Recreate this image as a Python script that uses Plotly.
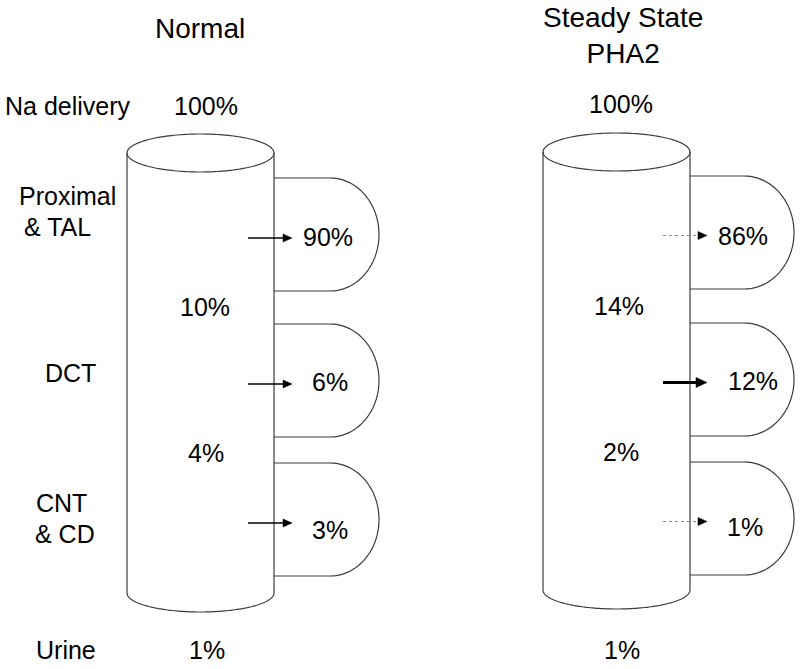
import numpy as np
import plotly.graph_objects as go

# ---------------- data ----------------
panel_titles = ["Normal", "Steady State<br>PHA2"]
segment_labels = ["Na delivery", "Proximal", "& TAL", "DCT", "CNT", "& CD", "Urine"]
normal_delivery = [100, 10, 4, 1]      # % Na delivered: start, after prox/TAL, after DCT, urine
normal_reabsorbed = [90, 6, 3]         # % reabsorbed in Proximal&TAL, DCT, CNT&CD
pha2_delivery = [100, 14, 2, 1]
pha2_reabsorbed = [86, 12, 1]
pha2_arrow_kind = ["dotted", "thick", "dotted"]
normal_arrow_kind = ["normal", "normal", "normal"]

# ---------------- layout constants ----------------
W, H = 800, 669
LINE = "#3c3c3c"
FONT = "Arial, Liberation Sans, sans-serif"

panels = [
    dict(cx=200.5, hw=73.5, top=153, bot=593, ry=19,
         lobe_tops=[178, 324, 463], lobe_h=113, lobe_rx=49, lobe_ext=105,
         title_y=28, deliv_y=[106, 307, 453, 650], deliv_x=[205.5, 204.5, 206, 207],
         pct_x=[327.5, 329.5, 330], pct_y=[237, 382, 529.5],
         arrow_x0=248, arrow_tip=292, arrow_dy=3.5,
         delivery=normal_delivery, reab=normal_reabsorbed, kinds=normal_arrow_kind,
         title=panel_titles[0], title_x=200),
    dict(cx=616.5, hw=73.5, top=152, bot=590, ry=19,
         lobe_tops=[176, 323, 462], lobe_h=113, lobe_rx=50, lobe_ext=104,
         title_y=35.5, deliv_y=[103.5, 306, 452, 650], deliv_x=[620.5, 619, 621, 622],
         pct_x=[743, 752.5, 745], pct_y=[235.5, 380.5, 526.5],
         arrow_x0=663, arrow_tip=707, arrow_dy=3,
         delivery=pha2_delivery, reab=pha2_reabsorbed, kinds=pha2_arrow_kind,
         title=panel_titles[1], title_x=623),
]

label_pos = [(68, 106), (67.5, 195.5), (57, 227), (70, 372.5), (61, 502.5), (64.5, 533.5), (65.5, 650)]

fig = go.Figure()
shapes = []
annotations = []

def ellipse_pts(cx, cy, rx, ry, t0, t1, n=80):
    t = np.linspace(t0, t1, n)
    return cx + rx * np.cos(t), cy + ry * np.sin(t)

def path_from(xs, ys, close=False):
    s = "M " + " L ".join(f"{x:.2f},{y:.2f}" for x, y in zip(xs, ys))
    return s + (" Z" if close else "")

for p in panels:
    cx, hw, ry = p["cx"], p["hw"], p["ry"]
    xl, xr = cx - hw, cx + hw
    # top ellipse
    xs, ys = ellipse_pts(cx, p["top"], hw, ry, 0, 2 * np.pi, 160)
    shapes.append(dict(type="path", path=path_from(xs, ys, True), line=dict(color=LINE, width=1.2)))
    # sides
    shapes.append(dict(type="line", x0=xl, x1=xl, y0=p["top"], y1=p["bot"], line=dict(color=LINE, width=1.2)))
    shapes.append(dict(type="line", x0=xr, x1=xr, y0=p["top"], y1=p["bot"], line=dict(color=LINE, width=1.2)))
    # bottom half ellipse (lower half, y down)
    xs, ys = ellipse_pts(cx, p["bot"], hw, ry, 0, np.pi, 100)
    shapes.append(dict(type="path", path=path_from(xs, ys), line=dict(color=LINE, width=1.2)))
    # lobes
    for lt in p["lobe_tops"]:
        lb = lt + p["lobe_h"]
        ryl = p["lobe_h"] / 2
        xs0 = xr + p["lobe_ext"] - p["lobe_rx"]
        t = np.linspace(-np.pi / 2, np.pi / 2, 80)
        ax = xs0 + p["lobe_rx"] * np.cos(t)
        ay = (lt + ryl) + ryl * np.sin(t)
        xs = np.concatenate([[xr], ax, [xr]])
        ys = np.concatenate([[lt], ay, [lb]])
        shapes.append(dict(type="path", path=path_from(xs, ys), line=dict(color=LINE, width=1.2)))
    # arrows + percentages
    for i, (val, kind) in enumerate(zip(p["reab"], p["kinds"])):
        ay = p["lobe_tops"][i] + p["lobe_h"] / 2 + p["arrow_dy"]
        tip = p["arrow_tip"]
        if kind == "thick":
            hl, hh, lw, col, dash = 11, 5, 3, "black", "solid"
        elif kind == "dotted":
            hl, hh, lw, col, dash = 9, 4, 1, "#8a8a8a", "dot"
        else:
            hl, hh, lw, col, dash = 9, 4, 1.5, "black", "solid"
        shapes.append(dict(type="line", x0=p["arrow_x0"], x1=tip - hl + 1, y0=ay, y1=ay,
                           line=dict(color=col, width=lw, dash=dash)))
        shapes.append(dict(type="path",
                           path=f"M {tip},{ay} L {tip-hl},{ay-hh} L {tip-hl},{ay+hh} Z",
                           fillcolor="black", line=dict(color="black", width=0.5)))
        annotations.append(dict(x=p["pct_x"][i], y=p["pct_y"][i], text=f"{val}%", showarrow=False,
                                xanchor="center", yanchor="middle", font=dict(size=25, color="black", family=FONT)))
    for i, val in enumerate(p["delivery"]):
        annotations.append(dict(x=p["deliv_x"][i], y=p["deliv_y"][i], text=f"{val}%", showarrow=False,
                                xanchor="center", yanchor="middle", font=dict(size=25, color="black", family=FONT)))
    annotations.append(dict(x=p["title_x"], y=p["title_y"], text=p["title"], showarrow=False,
                            xanchor="center", yanchor="middle", font=dict(size=28, color="black", family=FONT)))

for lab, (x, y) in zip(segment_labels, label_pos):
    annotations.append(dict(x=x, y=y, text=lab, showarrow=False, xanchor="center", yanchor="middle",
                            font=dict(size=25, color="black", family=FONT)))

fig.update_layout(
    width=W, height=H, margin=dict(l=0, r=0, t=0, b=0),
    paper_bgcolor="white", plot_bgcolor="white", showlegend=False,
    xaxis=dict(range=[0, W], visible=False, fixedrange=True),
    yaxis=dict(range=[H, 0], visible=False, fixedrange=True),
    shapes=shapes, annotations=annotations,
)
fig.write_html("out.html", config={"displayModeBar": False},
               post_script="document.body.style.margin='0px';document.body.style.overflow='hidden';")
